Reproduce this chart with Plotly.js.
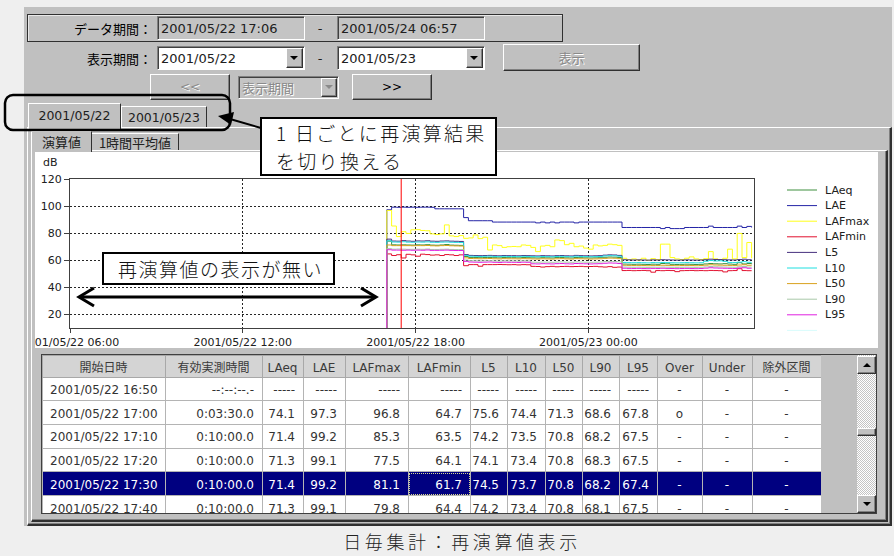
<!DOCTYPE html>
<html lang="ja"><head><meta charset="utf-8">
<script src="https://cdn.plot.ly/plotly-3.0.1.min.js"></script>
<style>
html,body{margin:0;padding:0;}
body{width:894px;height:556px;background:#efefef;position:relative;overflow:hidden;font-family:"DejaVu Sans","Noto Sans CJK JP",sans-serif;color:#202020;}
.a{position:absolute;box-sizing:border-box;}
.jp{font-family:"Noto Sans CJK JP",sans-serif;}
.c{display:flex;align-items:center;justify-content:center;}
.l{display:flex;align-items:center;}
.r{display:flex;align-items:center;justify-content:flex-end;}
.sunk{border:1px solid;border-color:#808080 #ffffff #ffffff #808080;box-shadow:inset 1px 1px 0 #404040;}
.raised{background:#c0c0c0;border:1px solid;border-color:#ffffff #303030 #303030 #ffffff;box-shadow:inset -1px -1px 0 #808080;}
.dis{color:#8a8a8a;text-shadow:1px 1px 0 #ffffff;}
.tri{position:absolute;width:0;height:0;border-left:4px solid transparent;border-right:4px solid transparent;border-top:4px solid #000;}
.triu{position:absolute;width:0;height:0;border-left:4px solid transparent;border-right:4px solid transparent;border-bottom:4px solid #000;}
.note{background:#fff;border:2px solid #000;font-family:"Noto Sans CJK JP",sans-serif;font-weight:300;font-size:19px;color:#111;z-index:11;}
</style></head><body>

<!-- window panel -->
<div class="a" style="left:24px;top:7px;width:868px;height:519px;background:#c0c0c0;"></div>

<!-- row 1 -->
<div class="a" style="left:27px;top:14px;width:536px;height:28px;border:1px solid #303030;box-shadow:inset 1px 1px 0 #e8e8e8;"></div>
<div class="a r jp" style="left:50px;top:15px;width:102px;height:27px;font-size:13px;color:#000;">データ期間：</div>
<div class="a sunk l" style="left:157px;top:16px;width:148px;height:24px;background:#c4c4c4;font-size:13px;padding-left:3px;">2001/05/22 17:06</div>
<div class="a c" style="left:314px;top:16px;width:12px;height:24px;font-size:13px;">-</div>
<div class="a sunk l" style="left:337px;top:16px;width:148px;height:24px;background:#c4c4c4;font-size:13px;padding-left:3px;">2001/05/24 06:57</div>

<!-- row 2 -->
<div class="a r jp" style="left:50px;top:46px;width:102px;height:24px;font-size:13px;color:#000;">表示期間：</div>
<div class="a sunk l" style="left:157px;top:46px;width:148px;height:24px;background:#fff;font-size:13px;padding-left:3px;">2001/05/22
  <div class="a raised" style="right:1px;top:1px;width:17px;height:20px;"><div class="tri" style="left:3px;top:7px;"></div></div></div>
<div class="a c" style="left:314px;top:46px;width:12px;height:24px;font-size:13px;">-</div>
<div class="a sunk l" style="left:337px;top:46px;width:148px;height:24px;background:#fff;font-size:13px;padding-left:3px;">2001/05/23
  <div class="a raised" style="right:1px;top:1px;width:17px;height:20px;"><div class="tri" style="left:3px;top:7px;"></div></div></div>
<div class="a raised c jp dis" style="left:503px;top:44px;width:137px;height:27px;font-size:13px;">表示</div>

<!-- row 3 -->
<div class="a raised c dis" style="left:150px;top:74px;width:80px;height:26px;font-size:12px;">&lt;&lt;</div>
<div class="a sunk l jp dis" style="left:238px;top:76px;width:101px;height:23px;background:#c4c4c4;font-size:13px;padding-left:3px;">表示期間
  <div class="a raised" style="right:1px;top:1px;width:16px;height:19px;"><div class="tri" style="left:3px;top:6px;border-top-color:#8a8a8a;"></div></div></div>
<div class="a raised c" style="left:352px;top:74px;width:80px;height:26px;font-size:12px;color:#000;">&gt;&gt;</div>

<!-- date tabs -->
<div class="a" style="left:27px;top:127px;width:865px;height:399px;border-top:1px solid #fff;border-left:1px solid #fff;border-right:2px solid #303030;border-bottom:2px solid #303030;box-shadow:inset -1px -1px 0 #808080;"></div>
<div class="a c" style="left:121px;top:106px;width:86px;height:21px;border-top:1px solid #fff;border-left:1px solid #fff;border-right:1px solid #303030;background:#c0c0c0;font-size:12.5px;">2001/05/23</div>
<div class="a c" style="left:28px;top:103px;width:93px;height:26px;border-top:1px solid #fff;border-left:1px solid #fff;border-right:1px solid #303030;background:#c0c0c0;font-size:12.5px;padding-bottom:2px;">2001/05/22</div>

<!-- sub tabs -->
<div class="a" style="left:31px;top:150px;width:857px;height:372px;border-top:1px solid #fff;border-left:1px solid #fff;border-right:2px solid #303030;border-bottom:2px solid #303030;box-shadow:inset -1px -1px 0 #808080;"></div>
<div class="a c jp" style="left:91px;top:133px;width:88px;height:17px;border-top:1px solid #fff;border-left:1px solid #fff;border-right:1px solid #303030;background:#c0c0c0;font-size:13px;">1時間平均値</div>
<div class="a c jp" style="left:31px;top:131px;width:61px;height:21px;border-top:1px solid #fff;border-left:1px solid #fff;border-right:1px solid #303030;background:#c0c0c0;font-size:13px;padding-bottom:1px;">演算値</div>

<!-- chart -->
<div class="a" style="left:35px;top:152px;width:843px;height:196px;background:#fff;overflow:hidden;"><div id="chart"></div></div>

<!-- table -->
<div class="a" style="left:41px;top:354px;width:836px;height:160px;background:#c0c0c0;border:1px solid #404040;overflow:hidden;"><div id="grid"></div></div>
<div class="a" style="left:857px;top:355px;width:19px;height:158px;background:repeating-conic-gradient(#ffffff 0 25%, #c4c4c4 0 50%) 0 0/2px 2px;"></div>
<div class="a raised" style="left:857px;top:356px;width:19px;height:18px;"><div class="triu" style="left:5px;top:6px;"></div></div>
<div class="a raised" style="left:857px;top:428px;width:19px;height:8px;"></div>
<div class="a raised" style="left:857px;top:495px;width:19px;height:18px;"><div class="tri" style="left:5px;top:6px;"></div></div>
<div class="a" style="left:409px;top:473px;width:61px;height:22px;border:1px dotted #d8d890;z-index:5;"></div>

<!-- caption -->
<div class="a c jp" style="left:300px;top:530px;width:324px;height:22px;font-size:18px;letter-spacing:3.6px;font-weight:300;color:#222;">日毎集計：再演算値表示</div>

<!-- callouts -->
<svg class="a" style="left:0;top:0;z-index:10;pointer-events:none;" width="894" height="556">
  <rect x="5" y="95" width="225" height="35" rx="8" ry="8" fill="none" stroke="#000" stroke-width="2.5"/>
  <line x1="261" y1="128" x2="230" y2="119" stroke="#000" stroke-width="2"/>
  <polygon points="218,116 234,112 231,125" fill="#000"/>
  <line x1="80" y1="297" x2="375" y2="297" stroke="#000" stroke-width="3"/>
  <polyline points="94,288 79,297 94,306" fill="none" stroke="#000" stroke-width="3"/>
  <polyline points="361,288 376,297 361,306" fill="none" stroke="#000" stroke-width="3"/>
</svg>
<div class="a note" style="left:260px;top:117px;width:237px;height:59px;padding-left:14px;line-height:28px;letter-spacing:2.3px;">1 日ごとに再演算結果<br>を切り換える</div>
<div class="a note l" style="left:102px;top:252px;width:233px;height:33px;padding-left:14px;letter-spacing:1.5px;">再演算値の表示が無い</div>

<script>
// ---------- DATA ----------
// 10-minute interval start times (first one has no data)
const times = ["16:50","17:00","17:10","17:20","17:30","17:40","17:50",
"18:00","18:10","18:20","18:30","18:40","18:50",
"19:00","19:10","19:20","19:30","19:40","19:50",
"20:00","20:10","20:20","20:30","20:40","20:50",
"21:00","21:10","21:20","21:30","21:40","21:50",
"22:00","22:10","22:20","22:30","22:40","22:50",
"23:00","23:10","23:20","23:30","23:40","23:50",
"00:00","00:10","00:20","00:30","00:40","00:50",
"01:00","01:10","01:20","01:30","01:40","01:50",
"02:00","02:10","02:20","02:30","02:40","02:50",
"03:00","03:10","03:20","03:30","03:40","03:50",
"04:00","04:10","04:20","04:30","04:40","04:50",
"05:00","05:10","05:20","05:30","05:40"];
const noDataLevel = 0;

// values from 17:00 onward
const LAeq = [74.1,71.4,71.3,71.4,71.3,71.2,71.4,71.3,71.5,71.2,
 71.1,71.3,71.6,71.2,71.1,71.0,62.8,62.1,62.0,61.9,
 62.0,62.1,61.9,61.8,62.0,61.9,61.9,61.8,62.0,61.9,
 61.8,61.7,61.9,61.8,61.7,62.1,62.0,61.8,61.7,62.0,
 61.9,61.8,61.7,61.8,61.9,62.2,62.4,62.3,62.0,57.2,
 57.1,57.0,57.1,57.0,56.9,57.1,57.0,57.6,57.4,57.0,
 56.9,57.0,57.1,57.0,56.9,57.0,57.3,57.6,57.4,57.3,
 57.5,57.2,57.0,58.2,57.3,57.6,57.1];
const LAE = [97.3,99.2,99.1,99.2,99.1,99.2,99.1,99.2,99.2,99.1,
 98.0,98.0,98.0,98.0,98.0,98.0,91.5,89.2,89.2,89.2,
 89.2,89.2,88.2,88.2,88.2,88.2,88.2,88.2,88.2,88.2,
 88.2,87.6,88.2,87.6,88.2,87.6,88.2,88.2,88.2,87.6,
 88.2,88.2,88.2,88.2,88.2,88.2,88.2,88.2,88.2,84.2,
 84.2,84.2,84.2,84.2,84.2,84.2,84.2,83.4,84.2,83.4,
 83.4,83.4,84.2,84.2,84.2,84.2,84.2,85.2,84.2,84.2,
 84.2,84.2,84.2,85.2,84.2,85.0,84.2];
const LAFmax = [96.8,85.3,77.5,81.1,79.8,82.5,82.6,82.0,81.8,79.5,
 79.0,79.5,86.1,78.0,77.5,78.2,76.2,76.5,78.7,76.0,
 77.0,67.6,71.3,70.8,69.5,70.0,70.2,70.0,71.3,71.0,
 69.5,66.4,70.5,71.0,70.0,75.0,74.5,71.5,72.5,70.0,
 70.5,69.0,68.2,71.3,70.6,71.0,71.9,71.5,71.0,61.5,
 60.5,61.0,60.2,61.5,60.0,61.2,60.5,71.9,71.9,62.0,
 61.0,60.5,61.5,62.5,61.0,60.5,61.2,66.4,61.0,60.5,
 61.5,68.2,61.0,79.8,62.0,73.1,61.5];
const LAFmin = [64.7,63.5,64.1,61.7,64.4,64.0,63.0,64.5,64.2,63.8,
 64.0,63.5,64.2,64.0,63.5,64.0,56.0,56.8,56.8,55.6,
 56.8,56.8,56.8,56.9,56.8,56.7,56.8,56.6,56.8,56.7,
 55.5,55.4,55.0,55.3,55.5,55.2,55.4,55.5,55.3,55.4,
 55.5,55.3,55.4,55.5,55.2,55.0,55.3,54.8,55.0,52.4,
 52.5,52.3,52.4,52.5,52.3,51.2,52.4,52.3,52.5,52.4,
 51.6,52.3,52.4,52.5,52.3,52.4,52.3,52.5,52.4,52.3,
 51.4,52.3,52.4,53.8,52.4,52.3,52.4];
const L5 = [75.6,74.2,74.1,74.5,74.2,74.0,74.3,74.2,74.4,74.1,
 74.0,74.2,74.3,74.1,74.0,73.9,64.2,63.6,63.5,63.4,
 63.5,63.6,63.4,63.3,63.5,63.4,63.4,63.3,63.5,63.4,
 63.3,63.2,63.4,63.3,63.2,63.4,63.5,63.3,63.2,63.6,
 63.4,63.3,63.2,63.3,63.4,63.8,64.0,63.9,63.6,60.4,
 60.3,60.2,60.3,60.2,60.1,60.3,60.2,60.4,60.3,60.2,
 60.1,60.2,60.3,60.2,60.1,60.2,60.4,60.8,60.6,60.5,
 60.4,60.3,60.2,60.5,60.8,60.4,60.3];
const L10 = [74.4,73.5,73.4,73.7,73.4,73.3,73.5,73.4,73.6,73.3,
 73.2,73.4,73.5,73.3,73.2,73.1,63.6,63.0,62.9,62.8,
 62.9,63.0,62.8,62.7,62.9,62.8,62.8,62.7,62.9,62.8,
 62.7,62.6,62.8,62.7,62.6,62.8,62.9,62.7,62.6,63.0,
 62.8,62.7,62.6,62.7,62.8,63.2,63.4,63.3,63.0,58.4,
 58.3,58.2,58.3,58.2,58.1,58.3,58.2,58.4,58.3,58.2,
 58.1,58.2,58.3,58.2,58.1,58.2,59.3,59.8,59.5,59.6,
 59.2,58.4,58.3,58.6,59.0,58.5,58.4];
const L50 = [71.3,70.8,70.8,70.8,70.8,70.7,70.8,70.8,70.9,70.7,
 70.6,70.8,70.9,70.7,70.6,70.5,61.8,61.3,61.2,61.1,
 61.2,61.3,61.1,61.0,61.2,61.1,61.1,61.0,61.2,61.1,
 61.0,60.9,61.1,61.0,60.9,61.1,61.2,61.0,60.9,61.2,
 61.1,61.0,60.9,61.0,61.1,61.4,61.6,61.5,61.2,56.3,
 56.2,56.1,56.2,56.1,56.0,56.2,56.1,56.3,56.2,56.1,
 56.0,56.1,56.2,56.1,56.0,56.1,56.4,56.7,56.5,56.4,
 56.3,56.2,56.1,56.5,56.7,56.3,56.2];
const L90 = [68.6,68.2,68.3,68.2,68.1,68.1,68.2,68.1,68.3,68.0,
 68.0,68.1,68.2,68.0,67.9,67.9,60.2,59.7,59.6,59.5,
 59.6,59.7,59.5,59.4,59.6,59.5,59.5,59.4,59.6,59.5,
 58.6,58.5,58.7,58.6,58.5,58.7,58.8,58.6,58.5,58.8,
 58.7,58.6,58.5,58.6,58.7,59.0,59.2,59.1,58.8,55.0,
 54.9,54.8,54.9,54.8,54.7,54.9,54.8,55.0,54.9,54.8,
 54.7,54.8,54.9,54.8,54.7,54.8,55.1,55.4,55.2,55.1,
 55.0,54.9,54.8,55.2,55.4,55.0,54.9];
const L95 = [67.8,67.5,67.5,67.4,67.5,67.4,67.5,67.4,67.6,67.3,
 67.3,67.4,67.5,67.3,67.2,67.2,59.2,58.7,58.6,58.5,
 58.6,58.7,58.5,58.4,58.6,58.5,58.5,58.4,58.6,58.5,
 57.4,57.3,57.5,57.4,57.3,57.5,57.6,57.4,57.3,57.6,
 57.5,57.4,57.3,57.4,57.5,57.8,58.0,57.9,57.6,54.1,
 54.0,53.9,54.0,53.9,53.8,54.0,53.9,54.1,54.0,53.9,
 53.8,53.9,54.0,53.9,53.8,53.9,54.2,54.5,54.3,54.2,
 54.1,54.0,53.9,54.3,54.5,54.1,54.0];

const seriesNames  = ['LAeq','LAE','LAFmax','LAFmin','L5','L10','L50','L90','L95'];
const seriesColors = ['#3f8f3f','#2424a6','#ffff1a','#e2102e','#46307e','#1fdfe0','#d9a21e','#a9c9a9','#e021e0'];
const seriesValues = [LAeq,LAE,LAFmax,LAFmin,L5,L10,L50,L90,L95];
const extraLegendColor = '#d8fcfc';

// table
const tableHeaders = ['開始日時','有効実測時間','LAeq','LAE','LAFmax','LAFmin','L5','L10','L50','L90','L95','Over','Under','除外区間'];
const tableValid = ['--:--:--.-','0:03:30.0','0:10:00.0','0:10:00.0','0:10:00.0','0:10:00.0'];
const tableOver  = ['-','o','-','-','-','-'];
const tableUnder = ['-','-','-','-','-','-'];
const tableExcl  = ['-','-','-','-','-','-'];
const tableRowCount = 6;
const selectedRow = 4;

// ---------- CHART ----------
function toDate(t){ return (parseInt(t,10) >= 12 ? '2001-05-22 ' : '2001-05-23 ') + t; }
const xs = times.map(toDate);
const traces = seriesNames.map((n,k)=>({
  type:'scatter', mode:'lines', name:n, x:xs, y:[noDataLevel].concat(seriesValues[k]),
  line:{color:seriesColors[k], width:1, shape:'hv'}, showlegend:false, hoverinfo:'skip'
}));

const W=843,H=196,ML=35,MR=124,MT=27,MB=20;
const PW=W-ML-MR, PH=H-MT-MB;
const px2x = p => (p-ML)/PW;
const px2y = p => 1-(p-MT)/PH;
const tickFont = {family:'DejaVu Sans, sans-serif', size:11, color:'#202020'};

const annotations = [{xref:'paper',yref:'paper',x:px2x(6),y:px2y(11),xanchor:'left',yanchor:'middle',
  text:'dB',showarrow:false,font:tickFont}];
const shapes = [{type:'line',xref:'x',yref:'paper',x0:xs[selectedRow],x1:xs[selectedRow],y0:0,y1:1,
  line:{color:'#ff0000',width:1},layer:'above'}];
const legendColors = seriesColors.concat([extraLegendColor]);
legendColors.forEach((c,k)=>{
  const yy = px2y(38 + 15.6*k);
  shapes.push({type:'line',xref:'paper',yref:'paper',x0:px2x(752),x1:px2x(782),y0:yy,y1:yy,line:{color:c,width:1}});
  if (k < seriesNames.length) annotations.push({xref:'paper',yref:'paper',x:px2x(788),y:yy,xanchor:'left',yanchor:'middle',
    text:seriesNames[k],showarrow:false,font:tickFont});
});

const axisCommon = {showline:true,mirror:true,linecolor:'#404040',linewidth:1,ticks:'outside',ticklen:4,tickcolor:'#404040',
  tickfont:tickFont,showgrid:true,gridcolor:'#262626',gridwidth:1,griddash:'2px,2px',zeroline:false,fixedrange:true,
  ticklabeloverflow:'allow'};

Plotly.newPlot('chart', traces, {
  width:W,height:H,margin:{l:ML,r:MR,t:MT,b:MB,pad:0},
  paper_bgcolor:'#ffffff',plot_bgcolor:'#ffffff',showlegend:false,
  xaxis:Object.assign({},axisCommon,{type:'date',range:['2001-05-22 06:00','2001-05-23 05:45'],
    tick0:'2001-05-22 06:00',dtick:6*3600*1000,tickformat:'%Y/%m/%d %H:%M'}),
  yaxis:Object.assign({},axisCommon,{range:[10,120],tick0:0,dtick:20,ticklen:5}),
  annotations:annotations,shapes:shapes
},{staticPlot:true,displayModeBar:false});

// ---------- TABLE ----------
const fmt = v => v == null ? '-----' : v.toFixed(1);
const colStart = times.slice(0,tableRowCount).map(t=>'2001/05/22\u00a0'+t);
const numCols = seriesValues.map(arr => [null].concat(arr.slice(0,tableRowCount-1)).map(fmt));
const cellCols = [colStart, tableValid].concat(numCols).concat([tableOver,tableUnder,tableExcl]);
const fillCols = cellCols.map(col => col.map((_,r)=> r===selectedRow ? '#000080' : '#ffffff'));
const fontCols = cellCols.map(col => col.map((_,r)=> r===selectedRow ? '#ffffff' : '#333333'));
const alignCols = ['left','right','right','right','right','right','right','right','right','right','right','center','center','center'];
const colWidths = [123,97,41,42,63,62,37,38,37,37,38,45,50,69];

Plotly.newPlot('grid', [{
  type:'table', columnwidth:colWidths, domain:{x:[0,1],y:[0,1]},
  header:{values:tableHeaders, height:22, align:'center', fill:{color:'#d4d4d4'},
    line:{color:'#a8a8a8',width:1}, font:{family:'DejaVu Sans, Noto Sans CJK JP, sans-serif',size:12,color:'#3a3a3a'}},
  cells:{values:cellCols, height:23.7, align:alignCols, fill:{color:fillCols},
    line:{color:'#b4b4b4',width:1}, font:{family:'DejaVu Sans, Noto Sans CJK JP, sans-serif',size:12,color:fontCols}}
}], {width:779,height:170,margin:{l:0,r:0,t:0,b:0},paper_bgcolor:'#c0c0c0'},
{staticPlot:true,displayModeBar:false});
</script>
</body></html>
